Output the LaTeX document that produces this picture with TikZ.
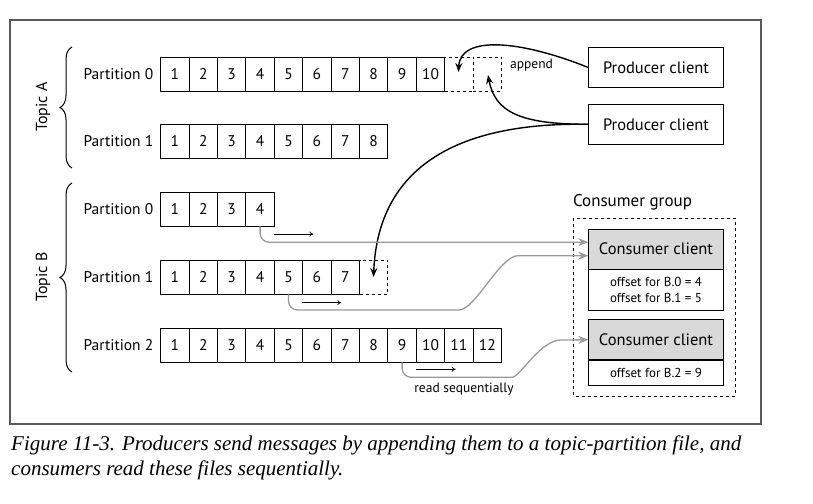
\documentclass[tikz,border=0pt]{standalone}
\usepackage{fontspec}
\setmainfont{PT Sans}
\newfontfamily\capfont{Liberation Serif}
\usetikzlibrary{arrows.meta,calc,decorations.pathreplacing}

\tikzset{
  cell/.style={draw, line width=0.9pt, minimum width=28.4pt, minimum height=34pt, inner sep=0pt, font=\fontsize{15.5}{18}\selectfont},
  plabel/.style={anchor=east, inner sep=0pt, font=\fontsize{15.5}{18}\selectfont},
  client/.style={draw, line width=0.9pt, minimum width=134.6pt, minimum height=40.4pt, inner sep=0pt, font=\fontsize{16.5}{18}\selectfont},
  offsets/.style={draw, line width=0.9pt, minimum width=134.6pt, inner sep=0pt, align=center, font=\fontsize{13}{16.5}\selectfont},
  small/.style={inner sep=0pt, font=\fontsize{13.5}{16}\selectfont},
  push/.style={line width=1.4pt, -{Stealth[length=9pt,width=7pt]}},
  pull/.style={gray!80, line width=1.3pt, rounded corners=9pt, -{Stealth[length=10pt,width=8pt]}},
  step arrow/.style={line width=0.7pt, -{To[length=4pt,width=5pt]}}
}

\begin{document}
\begin{tikzpicture}[x=1pt,y=-1pt]
  \useasboundingbox (0,0) rectangle (813,503);
  \draw[black!65, line width=1.2pt] (10,20) rectangle (761,424);

  % partitions
  \foreach \r/\y/\n/\p in {A0/74/10/0, A1/141.3/8/1, B0/209/4/0, B1/277/7/1, B2/345/12/2} {
    \node[plabel] (l\r) at (153.5,\y) {Partition \p};
    \foreach \i in {1,...,\n}
      \node[cell] (\r-\i) at ({160.7+(\i-0.5)*28.4},\y) {\i};
  }
  \node[cell,dashed] (A0-11) at ({160.7+10.5*28.4},74) {};
  \node[cell,dashed] (A0-12) at ({160.7+11.5*28.4},74) {};
  \node[cell,dashed] (B1-8) at ({160.7+7.5*28.4},277) {};

  % topics
  \draw[decorate, decoration={brace, amplitude=12pt}, line width=1pt] (72,168) -- (72,47);
  \draw[decorate, decoration={brace, amplitude=12pt}, line width=1pt] (72,372) -- (72,183);
  \node[rotate=90, font=\fontsize{16}{18}\selectfont] (tA) at (43,107) {Topic A};
  \node[rotate=90, font=\fontsize{16}{18}\selectfont] (tB) at (43,277) {Topic B};

  % producers
  \node[client] (pa) at (656,67.5) {Producer client};
  \node[client] (pb) at (656,124.3) {Producer client};
  \node[small] (app) at (531.5,65) {append};

  \draw[push] (pa.west) .. controls (520,40) and (460,35) .. (458.5,72);
  \draw[push] (pb.west) .. controls (520,124.3) and (495,112) .. (488,75);
  \draw[push] (pb.west) .. controls (460,122) and (378,165) .. (373.5,277);

  % consumers
  \draw[dashed, line width=0.9pt] (573.3,218.3) rectangle (735,396);
  \node[font=\fontsize{17}{18}\selectfont] (grp) at (632.5,202.5) {Consumer group};
  \node[client, fill=black!15] (c1) at (656,249.2) {Consumer client};
  \node[offsets, minimum height=40.7pt] (o1) at (656,289.7) {offset for B.0 = 4\\offset for B.1 = 5};
  \node[client, fill=black!15] (c2) at (656,339.7) {Consumer client};
  \node[offsets, minimum height=25pt] (o2) at (656,372.5) {offset for B.2 = 9};

  \draw[pull] (B0-4.south) |- ($(c1.west)+(0,-7)$);
  \draw[pull] (B1-5.south) |- (450,310) .. controls (475,310) and (500,255.7) .. (527,255.7) -- ($(c1.west)+(0,6.5)$);
  \draw[pull] (B2-9.south) |- (503,377.3) .. controls (520,377.3) and (540,340) .. (570,340) -- (c2.west);

  \coordinate (s0) at (274.3,234);
  \coordinate (s1) at (302.3,302.7);
  \coordinate (s2) at (415.7,369.3);
  \draw[step arrow] (s0) -- ++(39,0);
  \draw[step arrow] (s1) -- ++(39,0);
  \draw[step arrow] (s2) -- ++(40,0);
  \node[small] (rs) at (464,389) {read sequentially};

  % caption
  \node[anchor=base west, inner sep=0pt, font=\capfont\itshape\fontsize{21}{25}\selectfont] (cap1) at (11,450) {Figure 11-3. Producers send messages by appending them to a topic-partition file, and};
  \node[anchor=base west, inner sep=0pt, font=\capfont\itshape\fontsize{21}{25}\selectfont] (cap2) at (11,475) {consumers read these files sequentially.};
\end{tikzpicture}
\end{document}
